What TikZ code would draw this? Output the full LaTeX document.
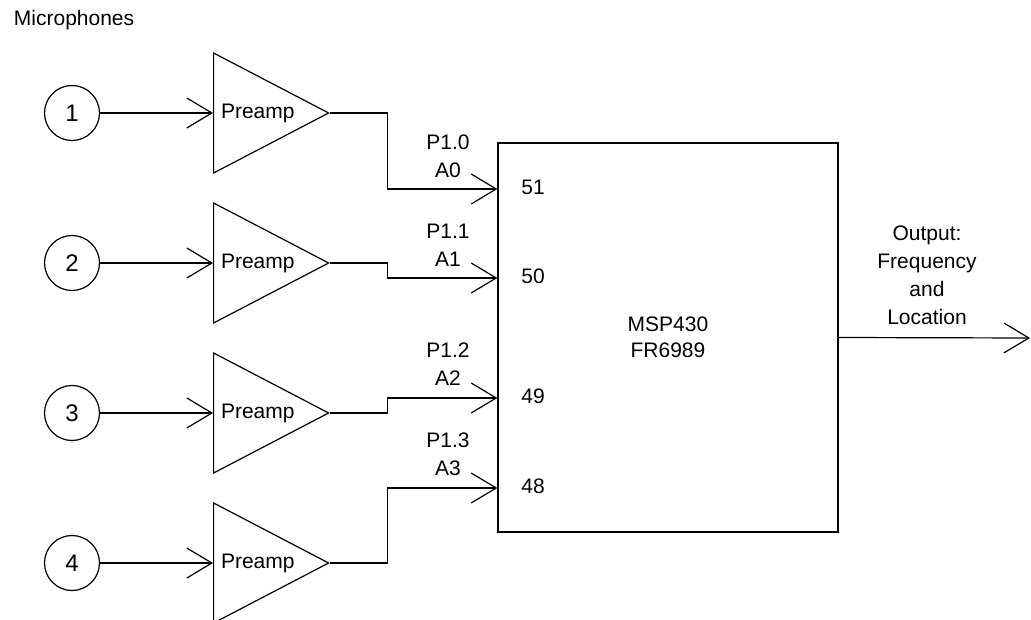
\documentclass[tikz,border=0pt]{standalone}
\usepackage{fontspec}
\setmainfont{Liberation Sans}
\usetikzlibrary{arrows.meta,shapes.geometric}

\tikzset{
  mic/.style={draw, circle, minimum size=55pt, inner sep=0pt, font=\fontsize{24}{26}\selectfont},
  amp/.style={draw, isosceles triangle, isosceles triangle stretches,
    shape border rotate=0, minimum width=120pt, minimum height=115pt,
    inner sep=0pt, anchor=lower side},
  chip/.style={draw, minimum width=340pt, minimum height=389pt, align=center},
  pin/.style={align=center, font=\fontsize{21}{28}\selectfont},
}

\begin{document}
\begin{tikzpicture}[x=1pt, y=-1pt, line width=1.2pt,
    font=\fontsize{21}{26}\selectfont,
    >={Straight Barb[length=25pt, width=30pt]}]
                \useasboundingbox (0,0) rectangle (1031,620);

                \draw node[anchor=west] (title) at (10,20) {Microphones};

                \draw node[mic] (mic1) at (72,113) {1};
                \draw node[mic] (mic2) at (72,263) {2};
                \draw node[mic] (mic3) at (72,413) {3};
                \draw node[mic] (mic4) at (72,563) {4};

                \draw node[amp] (pre1) at (213,113) {Preamp};
                \draw node[amp] (pre2) at (213,263) {Preamp};
                \draw node[amp] (pre3) at (213,413) {Preamp};
                \draw node[amp] (pre4) at (213,563) {Preamp};

                \draw node[chip] (msp) at (668,337.5) {MSP430\\FR6989};

                \draw node (p51) at (533,187) {51};
                \draw node (p50) at (533,276) {50};
                \draw node (p49) at (533,396) {49};
                \draw node (p48) at (533,486) {48};

                \draw node[pin] (a0) at (448,156) {P1.0\\A0};
                \draw node[pin] (a1) at (448,245) {P1.1\\A1};
                \draw node[pin] (a2) at (448,364) {P1.2\\A2};
                \draw node[pin] (a3) at (448,454) {P1.3\\A3};

                \draw node[pin] (label) at (927,275) {Output:\\Frequency\\and\\Location};
                \coordinate (out) at (1030,338);

                \draw[->] (mic1.east) to (pre1.lower side);
                \draw[->] (mic2.east) to (pre2.lower side);
                \draw[->] (mic3.east) to (pre3.lower side);
                \draw[->] (mic4.east) to (pre4.lower side);

                \draw[->] (pre1.apex) -- ++(57,0) |- (msp.west |- 0,189);
                \draw[->] (pre2.apex) -- ++(57,0) |- (msp.west |- 0,278);
                \draw[->] (pre3.apex) -- ++(57,0) |- (msp.west |- 0,398);
                \draw[->] (pre4.apex) -- ++(57,0) |- (msp.west |- 0,488);

                \draw[->] (msp.east) to (out);
            \end{tikzpicture}
\end{document}
